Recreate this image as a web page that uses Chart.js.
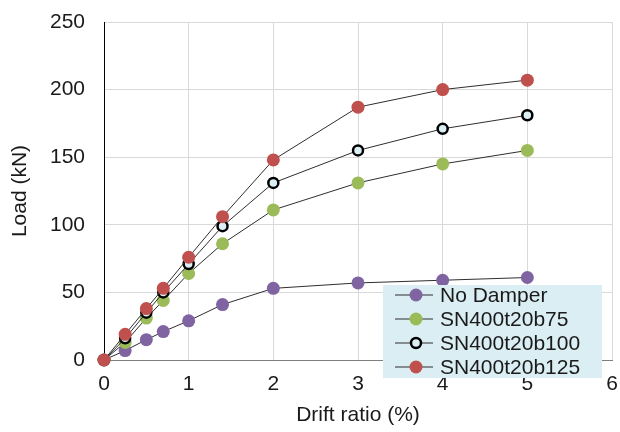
<!DOCTYPE html>
<html>
<head>
<meta charset="utf-8">
<script src="https://cdn.jsdelivr.net/npm/chart.js@4/dist/chart.umd.min.js"></script>
<style>
	html, body { margin: 0; padding: 0; background: #fff; }
	#wrap { width: 620px; height: 432px; }
</style>
</head>
<body>
<div id="wrap"><canvas id="chart" width="620" height="432"></canvas></div>
<script>
// drift ratio (%)
const driftRatio = [0, 0.25, 0.5, 0.7, 1, 1.4, 2, 3, 4, 5];
// load (kN)
const noDamper = [0, 7, 15, 21, 29, 41, 53, 57, 59, 61];
const sn75 = [0, 13, 31, 44, 64, 86, 111, 131, 145, 155];
const sn100 = [0, 16, 35, 50, 71, 99, 131, 155, 171, 181];
const sn125 = [0, 19, 38, 53, 76, 106, 148, 187, 200, 207];
const seriesNames = ['No Damper', 'SN400t20b75', 'SN400t20b100', 'SN400t20b125'];
const xTicks = [0, 1, 2, 3, 4, 5, 6];
const yTicks = [0, 50, 100, 150, 200, 250];

const FONT = "'Liberation Sans', Arial, sans-serif";
const TEXT = '#1a1a1a';
const LINE = '#2e2e2e';

function toPoints(ys) {
	return driftRatio.map((x, i) => ({x: x, y: ys[i]}));
}

function series(label, ys, fill, border) {
	return {
		label: label,
		data: toPoints(ys),
		borderColor: LINE,
		borderWidth: 1,
		pointBackgroundColor: fill,
		pointBorderColor: border,
		pointBorderWidth: border === fill ? 0 : 2.5,
		pointRadius: border === fill ? 6.5 : 5,
		clip: false // the origin marker sits on the axes
	};
}

// no extra room for overhanging tick labels, layout padding decides
function noOverhang(s) {
	s.paddingTop = 0;
	s.paddingBottom = 0;
	s.paddingLeft = 0;
	s.paddingRight = 0;
}

// legend drawn inside the plot, on top of the lines
const boxLegend = {
	id: 'boxLegend',
	afterDraw: function (chart) {
		const ctx = chart.ctx;
		const x0 = 383, y0 = 285, w = 219, h = 93;
		ctx.save();
		ctx.fillStyle = '#daeef3';
		ctx.fillRect(x0, y0, w, h);
		ctx.font = '21px ' + FONT;
		ctx.textBaseline = 'middle';
		ctx.textAlign = 'left';
		const rows = [295, 319, 343, 367];
		// legend order follows the series names, not the draw order
		const sets = seriesNames.map((n) => chart.data.datasets.find((d) => d.label === n));
		sets.forEach((ds, i) => {
			const yy = rows[i];
			ctx.strokeStyle = LINE;
			ctx.lineWidth = 1;
			ctx.beginPath();
			ctx.moveTo(395, yy);
			ctx.lineTo(433, yy);
			ctx.stroke();
			ctx.beginPath();
			ctx.arc(416, yy, ds.pointRadius, 0, Math.PI * 2);
			ctx.fillStyle = ds.pointBackgroundColor;
			ctx.fill();
			if (ds.pointBorderWidth > 0) {
				ctx.lineWidth = ds.pointBorderWidth;
				ctx.strokeStyle = ds.pointBorderColor;
				ctx.stroke();
			}
			ctx.fillStyle = TEXT;
			ctx.fillText(ds.label, 440, yy + 1);
		});
		ctx.restore();
	}
};

const ctx = document.getElementById('chart').getContext('2d');
new Chart(ctx, {
	type: 'line',
	data: {
		// first dataset ends up on top, so the red series goes first
		datasets: [
			series(seriesNames[3], sn125, '#c0504d', '#c0504d'),
			series(seriesNames[2], sn100, '#daeef3', '#000000'),
			series(seriesNames[1], sn75, '#9bbb59', '#9bbb59'),
			series(seriesNames[0], noDamper, '#8064a2', '#8064a2')
		]
	},
	options: {
		responsive: false,
		animation: false,
		layout: {padding: {left: 0, right: 8, top: 22, bottom: 0}},
		plugins: {
			legend: {display: false},
			tooltip: {enabled: false}
		},
		scales: {
			x: {
				type: 'linear',
				min: 0,
				max: 6,
				afterBuildTicks: (s) => { s.ticks = xTicks.map((v) => ({value: v})); },
				afterFit: (s) => { s.height = 72; noOverhang(s); },
				grid: {color: '#d9d9d9', lineWidth: 1, drawTicks: false},
				border: {color: '#7f7f7f', width: 1},
				ticks: {font: {family: FONT, size: 21}, color: TEXT, padding: 12},
				title: {
					display: true,
					text: 'Drift ratio (%)',
					font: {family: FONT, size: 21},
					color: TEXT,
					padding: {top: 0, bottom: 4}
				}
			},
			y: {
				min: 0,
				max: 250,
				afterBuildTicks: (s) => { s.ticks = yTicks.map((v) => ({value: v})); },
				afterFit: (s) => { s.width = 104; noOverhang(s); },
				grid: {color: '#d9d9d9', lineWidth: 1, drawTicks: false},
				border: {color: '#000000', width: 1},
				ticks: {font: {family: FONT, size: 21}, color: TEXT, padding: 19},
				title: {
					display: true,
					text: 'Load (kN)',
					font: {family: FONT, size: 21},
					color: TEXT,
					padding: {top: 8, bottom: 0}
				}
			}
		}
	},
	plugins: [boxLegend]
});
</script>
</body>
</html>
